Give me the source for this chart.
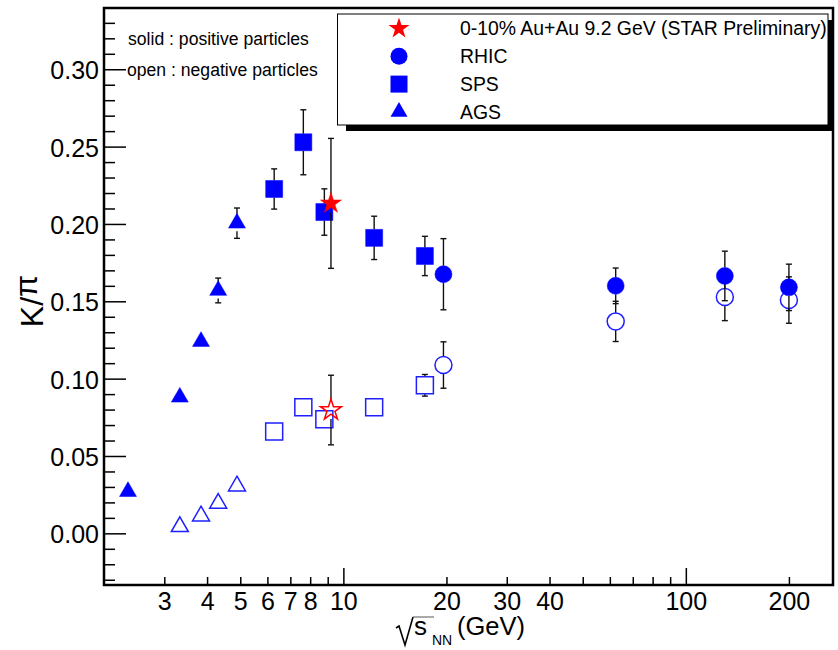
<!DOCTYPE html>
<html>
<head>
<meta charset="utf-8">
<script src="https://cdn.jsdelivr.net/npm/d3@7"></script>
<style>
  html, body { margin: 0; padding: 0; background: #fff; overflow: hidden; }
  svg { display: block; }
  text { font-family: "Liberation Sans", Arial, Helvetica, sans-serif; fill: #000; }
</style>
</head>
<body>
<script>
var fullWidth = 838
var fullHeight = 650
var margin = { top: 8, right: 5, bottom: 65, left: 104 }
var innerWidth = fullWidth - margin.left - margin.right
var innerHeight = fullHeight - margin.top - margin.bottom

// sqrt(s_NN) in GeV, K/pi ratios, errors
var agsEnergy = [2.35, 3.33, 3.84, 4.31, 4.89]
var agsPos = [0.027, 0.088, 0.124, 0.157, 0.2005]
var agsPosErr = [0.002, 0.003, 0.003, 0.008, 0.0098]
var agsNegEnergy = [3.33, 3.84, 4.31, 4.89]
var agsNeg = [0.0043, 0.0112, 0.0194, 0.0306]
var agsNegErr = [0.001, 0.002, 0.002, 0.003]

var spsEnergy = [6.28, 7.64, 8.8, 12.3, 17.3]
var spsPos = [0.2226, 0.2528, 0.2077, 0.191, 0.1793]
var spsPosErr = [0.013, 0.021, 0.015, 0.014, 0.0127]
var spsNeg = [0.0659, 0.0815, 0.0737, 0.0815, 0.0957]
var spsNegErr = [0.003, 0.003, 0.003, 0.003, 0.007]

var rhicEnergy = [19.6, 62.4, 130, 200]
var rhicPos = [0.1675, 0.16, 0.1664, 0.159]
var rhicPosErr = [0.023, 0.0115, 0.016, 0.015]
var rhicNeg = [0.1088, 0.137, 0.1528, 0.1508]
var rhicNegErr = [0.015, 0.013, 0.0153, 0.015]

var starEnergy = [9.2]
var starPos = [0.2133]
var starPosErr = [0.042]
var starNeg = [0.0797]
var starNegErr = [0.0225]

var legendLabels = ['0-10% Au+Au 9.2 GeV (STAR Preliminary)', 'RHIC', 'SPS', 'AGS']
var xTicks = [3, 4, 5, 6, 7, 8, 9, 10, 20, 30, 40, 50, 60, 70, 80, 90, 100, 200]
var xTickLabels = [3, 4, 5, 6, 7, 8, 10, 20, 30, 40, 100, 200]
var xMajor = [10, 100]
var yTicks = d3.range(-3, 34).map((i) => i / 100)
var yTickLabels = [0, 0.05, 0.1, 0.15, 0.2, 0.25, 0.3]

var svg = d3
  .select('body')
  .append('svg')
  .attr('xmlns', 'http://www.w3.org/2000/svg')
  .attr('width', fullWidth)
  .attr('height', fullHeight)

svg.append('rect').attr('width', fullWidth).attr('height', fullHeight).style('fill', '#fff')

var x = d3
  .scaleLog()
  .domain([2, 269])
  .range([margin.left, margin.left + innerWidth])
var y = d3
  .scaleLinear()
  .domain([-0.0334, 0.3396])
  .range([margin.top + innerHeight, margin.top])

var isMajorY = (d) => Math.abs(Math.round(d * 100) % 5) === 0
var isLabelY = (d) => yTickLabels.some((v) => Math.abs(v - d) < 1e-6)

// y axis, ticks pointing inside
var yAxisG = svg
  .append('g')
  .attr('transform', 'translate(' + margin.left + ',0)')
  .call(
    d3
      .axisLeft(y)
      .tickValues(yTicks)
      .tickSize(-11)
      .tickPadding(5)
      .tickFormat((d) => (isLabelY(d) ? d3.format('.2f')(d) : ''))
  )
yAxisG.select('.domain').remove()
yAxisG
  .selectAll('.tick line')
  .attr('x2', (d) => (isMajorY(d) ? 22 : 11))
  .style('stroke', '#000')
  .style('stroke-width', 1.5)
yAxisG
  .selectAll('.tick text')
  .filter((d) => !isLabelY(d))
  .remove()
yAxisG
  .selectAll('.tick text')
  .style('font-size', '25px')
  .attr('dy', '0.38em')

// x axis (log), ticks pointing inside
var xAxisG = svg
  .append('g')
  .attr('transform', 'translate(0,' + (margin.top + innerHeight) + ')')
  .call(
    d3
      .axisBottom(x)
      .tickValues(xTicks)
      .tickSize(-8)
      .tickPadding(7)
      .tickFormat((d) => (xTickLabels.indexOf(d) >= 0 ? d : ''))
  )
xAxisG.select('.domain').remove()
xAxisG
  .selectAll('.tick line')
  .attr('y2', (d) => (xMajor.indexOf(d) >= 0 ? -17 : -8))
  .style('stroke', '#000')
  .style('stroke-width', 1.5)
xAxisG
  .selectAll('.tick text')
  .filter((d) => xTickLabels.indexOf(d) < 0)
  .remove()
xAxisG.selectAll('.tick text').style('font-size', '25px')

// frame
svg
  .append('rect')
  .attr('x', margin.left)
  .attr('y', margin.top)
  .attr('width', innerWidth)
  .attr('height', innerHeight)
  .style('fill', 'none')
  .style('stroke', '#000')
  .style('stroke-width', 2.5)

var plotG = svg.append('g')

function drawSeries(xs, ys, errs, shape, size, halfH, filled, color) {
  var g = plotG.append('g')
  xs.forEach((xv, i) => {
    var cx = x(xv)
    var cy = y(ys[i])
    var top = y(ys[i] + errs[i])
    var bot = y(ys[i] - errs[i])
    if (top < cy - halfH) {
      g.append('line').attr('x1', cx).attr('x2', cx).attr('y1', top).attr('y2', cy - halfH)
      g.append('line').attr('x1', cx - 3).attr('x2', cx + 3).attr('y1', top).attr('y2', top)
    }
    if (bot > cy + halfH) {
      g.append('line').attr('x1', cx).attr('x2', cx).attr('y1', cy + halfH).attr('y2', bot)
      g.append('line').attr('x1', cx - 3).attr('x2', cx + 3).attr('y1', bot).attr('y2', bot)
    }
  })
  g.selectAll('line').style('stroke', '#111').style('stroke-width', 1.4)

  g.selectAll('path.marker')
    .data(xs)
    .enter()
    .append('path')
    .attr('class', 'marker')
    .attr('d', d3.symbol().type(shape).size(size))
    .attr('transform', (d, i) => 'translate(' + x(d) + ',' + y(ys[i]) + ')')
    .style('fill', filled ? color : 'none')
    .style('stroke', color)
    .style('stroke-width', filled ? 0.5 : 1.5)
}

var circleSize = 227
var squareSize = 289
var triSize = 125
var starSize = 137

drawSeries(agsNegEnergy, agsNeg, agsNegErr, d3.symbolTriangle, triSize, 8, false, '#1f1fff')
drawSeries(agsEnergy, agsPos, agsPosErr, d3.symbolTriangle, triSize, 8, true, '#0000ff')
drawSeries(spsEnergy, spsNeg, spsNegErr, d3.symbolSquare, squareSize, 8.5, false, '#1f1fff')
drawSeries(spsEnergy, spsPos, spsPosErr, d3.symbolSquare, squareSize, 8.5, true, '#0000ff')
drawSeries(rhicEnergy, rhicNeg, rhicNegErr, d3.symbolCircle, circleSize, 8.5, false, '#1f1fff')
drawSeries(rhicEnergy, rhicPos, rhicPosErr, d3.symbolCircle, circleSize, 8.5, true, '#0000ff')
drawSeries(starEnergy, starNeg, starNegErr, d3.symbolStar, starSize, 9, false, '#ff0000')
drawSeries(starEnergy, starPos, starPosErr, d3.symbolStar, starSize, 9, true, '#ff0000')

// legend with shadow
var legendG = svg.append('g')
legendG
  .append('rect')
  .attr('x', 346)
  .attr('y', 20)
  .attr('width', 487)
  .attr('height', 111)
  .style('fill', '#000')
legendG
  .append('rect')
  .attr('x', 337.5)
  .attr('y', 14)
  .attr('width', 490.5)
  .attr('height', 111)
  .style('fill', '#fff')
  .style('stroke', '#000')
  .style('stroke-width', 1)

var legendShapes = [
  { type: d3.symbolStar, size: starSize, color: '#ff0000' },
  { type: d3.symbolCircle, size: circleSize, color: '#0000ff' },
  { type: d3.symbolSquare, size: squareSize, color: '#0000ff' },
  { type: d3.symbolTriangle, size: triSize, color: '#0000ff' }
]

legendLabels.forEach((label, i) => {
  var ly = 28.5 + i * 27.8
  legendG
    .append('path')
    .attr('d', d3.symbol().type(legendShapes[i].type).size(legendShapes[i].size))
    .attr('transform', 'translate(399,' + ly + ')')
    .style('fill', legendShapes[i].color)
  legendG
    .append('text')
    .attr('x', 460)
    .attr('y', ly)
    .attr('dy', '0.35em')
    .style('font-size', '19.4px')
    .text(label)
})

// notes
svg
  .append('text')
  .attr('x', 128)
  .attr('y', 45)
  .style('font-size', '17.6px')
  .text('solid : positive particles')
svg
  .append('text')
  .attr('x', 127)
  .attr('y', 76)
  .style('font-size', '17.6px')
  .text('open : negative particles')

// y title
var yTitle = svg
  .append('text')
  .attr('transform', 'translate(43,301) rotate(-90)')
  .attr('text-anchor', 'middle')
  .style('font-size', '32px')
yTitle.append('tspan').text('K/')
yTitle.append('tspan').attr('dy', '-0.18em').text('π')

// x title: sqrt(s_NN) (GeV)
var xTitle = svg.append('g')
xTitle
  .append('path')
  .attr('d', 'M396,628 L399,626 L405,645 L413,617')
  .style('fill', 'none')
  .style('stroke', '#000')
  .style('stroke-width', 1.6)
xTitle
  .append('path')
  .attr('d', 'M413,617 L434,617')
  .style('fill', 'none')
  .style('stroke', '#555')
  .style('stroke-width', 1)
xTitle
  .append('text')
  .attr('x', 414)
  .attr('y', 635)
  .style('font-size', '26px')
  .text('s')
xTitle
  .append('text')
  .attr('x', 432)
  .attr('y', 645)
  .style('font-size', '14px')
  .text('NN')
xTitle
  .append('text')
  .attr('x', 457)
  .attr('y', 635)
  .style('font-size', '25.5px')
  .text('(GeV)')
</script>
</body>
</html>
